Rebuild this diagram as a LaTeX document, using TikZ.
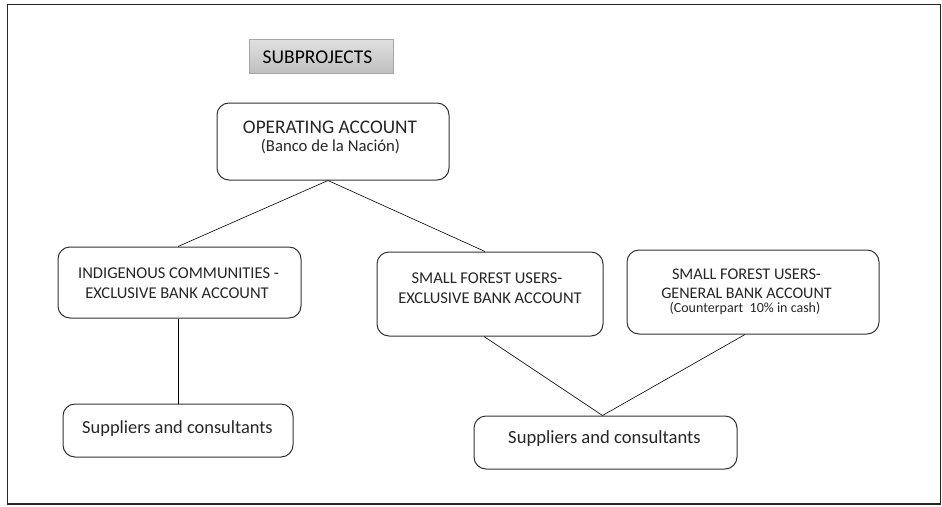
\documentclass[tikz,border=0pt]{standalone}
\usepackage{fontspec}
\setmainfont{Carlito}
\begin{document}
\begin{tikzpicture}[x=1pt,y=-1pt,
  acct/.style={draw=black!80, line width=1pt, rounded corners=12pt, fill=white, inner sep=0pt},
  txt/.style={anchor=base, inner sep=0pt, text=black!85},
  link/.style={draw=black, line width=0.6pt}]
\useasboundingbox (0,0) rectangle (942,506);
\draw[line width=1.4pt, draw=black!85] (7.5,4.5) rectangle (940.5,504);
% title
\node[draw=black!35, line width=0.6pt, top color=black!12, bottom color=black!25, minimum width=144pt, minimum height=34pt, inner sep=0pt] (sub) at (321,56) {};
\node[txt, font=\fontsize{19.5}{22}\selectfont, text=black] (subt) at (317.5,63) {SUBPROJECTS};
% boxes
\node[acct, minimum width=232pt, minimum height=77pt] (op) at (333,141.5) {};
\node[acct, minimum width=243pt, minimum height=71pt] (ind) at (179.5,282.5) {};
\node[acct, minimum width=226pt, minimum height=84pt] (sfe) at (490,294) {};
\node[acct, minimum width=252pt, minimum height=84pt] (sfg) at (753,292) {};
\node[acct, minimum width=230pt, minimum height=53pt] (supl) at (178,430.5) {};
\node[acct, minimum width=263pt, minimum height=53pt] (supr) at (605.5,442.5) {};
% texts
\node[txt, font=\fontsize{19.3}{22}\selectfont] (op1) at (330,133) {OPERATING ACCOUNT};
\node[txt, font=\fontsize{16.7}{19}\selectfont] (op2) at (330.5,151) {(Banco de la Nación)};
\node[txt, font=\fontsize{16.5}{20}\selectfont] (ind1) at (178.5,278) {INDIGENOUS COMMUNITIES -};
\node[txt, font=\fontsize{16.5}{20}\selectfont] (ind2) at (177,298) {EXCLUSIVE BANK ACCOUNT};
\node[txt, font=\fontsize{16.5}{20}\selectfont] (sfe1) at (487,283) {SMALL FOREST USERS-};
\node[txt, font=\fontsize{16.5}{20}\selectfont] (sfe2) at (490,303) {EXCLUSIVE BANK ACCOUNT};
\node[txt, font=\fontsize{16.3}{20}\selectfont] (sfg1) at (746.5,279) {SMALL FOREST USERS-};
\node[txt, font=\fontsize{16.1}{20}\selectfont] (sfg2) at (746.5,298) {GENERAL BANK ACCOUNT};
\node[txt, font=\fontsize{14}{16}\selectfont] (sfg3) at (745,312) {(Counterpart\ \ 10\% in cash)};
\node[txt, font=\fontsize{18.4}{22}\selectfont] (supl1) at (177.5,433) {Suppliers and consultants};
\node[txt, font=\fontsize{18.6}{22}\selectfont] (supr1) at (604.5,443) {Suppliers and consultants};
% connectors
\coordinate (opb) at ([xshift=-5pt]op.south);
\draw[link] (opb) -- ([xshift=-1.5pt]ind.north);
\draw[link] (opb) -- ([xshift=-5pt]sfe.north);
\draw[link] ([xshift=-1.5pt]ind.south) -- ([xshift=-1.5pt]ind.south |- supl.north);
\draw[link] ([xshift=-6pt]sfe.south) -- ([xshift=-3pt]supr.north);
\draw[link] ([xshift=-8pt]sfg.south) -- ([xshift=-3pt]supr.north);
\end{tikzpicture}
\end{document}
